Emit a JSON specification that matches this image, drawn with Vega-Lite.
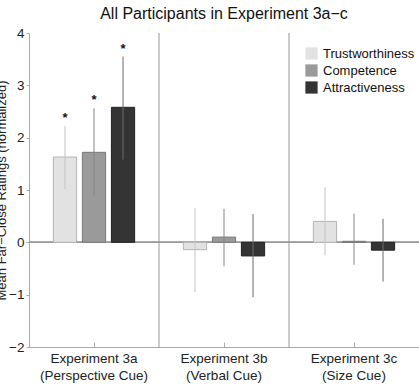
{
  "$schema": "https://vega.github.io/schema/vega-lite/v6.json",
  "width": 390,
  "height": 314,
  "autosize": "none",
  "padding": {"left": 29, "top": 33, "right": 0, "bottom": 39},
  "background": "white",
  "config": {
    "font": "Liberation Sans",
    "view": {"stroke": null},
    "axis": {"grid": false, "domainColor": "#aaaaaa", "tickColor": "#aaaaaa", "labelColor": "#222222", "titleColor": "#222222", "labelFont": "Liberation Sans", "titleFont": "Liberation Sans"}
  },
  "title": {"text": "All Participants in Experiment 3a\u2212c", "fontSize": 16, "fontWeight": "normal", "font": "Liberation Sans", "color": "#111111", "offset": 4, "anchor": "middle"},
  "datasets": {
    "bars": [
      {"group": "Experiment 3a|(Perspective Cue)", "series": "Trustworthiness", "mean": 1.63, "lo": 1.02, "hi": 2.23, "sig": "*"},
      {"group": "Experiment 3a|(Perspective Cue)", "series": "Competence", "mean": 1.72, "lo": 0.88, "hi": 2.56, "sig": "*"},
      {"group": "Experiment 3a|(Perspective Cue)", "series": "Attractiveness", "mean": 2.58, "lo": 1.58, "hi": 3.55, "sig": "*"},
      {"group": "Experiment 3b|(Verbal Cue)", "series": "Trustworthiness", "mean": -0.14, "lo": -0.95, "hi": 0.66, "sig": ""},
      {"group": "Experiment 3b|(Verbal Cue)", "series": "Competence", "mean": 0.1, "lo": -0.46, "hi": 0.64, "sig": ""},
      {"group": "Experiment 3b|(Verbal Cue)", "series": "Attractiveness", "mean": -0.26, "lo": -1.05, "hi": 0.54, "sig": ""},
      {"group": "Experiment 3c|(Size Cue)", "series": "Trustworthiness", "mean": 0.4, "lo": -0.25, "hi": 1.05, "sig": ""},
      {"group": "Experiment 3c|(Size Cue)", "series": "Competence", "mean": 0.02, "lo": -0.43, "hi": 0.55, "sig": ""},
      {"group": "Experiment 3c|(Size Cue)", "series": "Attractiveness", "mean": -0.15, "lo": -0.75, "hi": 0.45, "sig": ""}
    ],
    "seps": [
      {"group": "Experiment 3b|(Verbal Cue)"},
      {"group": "Experiment 3c|(Size Cue)"}
    ]
  },
  "layer": [
    {
      "data": {"name": "seps"},
      "mark": {"type": "rule", "color": "#999999", "strokeWidth": 1},
      "encoding": {
        "x": {"field": "group", "type": "nominal", "bandPosition": 0}
      }
    },
    {
      "data": {"name": "bars"},
      "mark": {"type": "rule", "color": "#999999", "strokeWidth": 1},
      "encoding": {"y": {"datum": 0}}
    },
    {
      "data": {"name": "bars"},
      "mark": {"type": "bar", "strokeWidth": 1},
      "encoding": {
        "x": {
          "field": "group", "type": "nominal", "sort": null,
          "scale": {"paddingInner": 0, "paddingOuter": 0},
          "axis": {"title": null, "labelAngle": 0, "labelAlign": "center", "labelBaseline": "top", "labelExpr": "split(datum.label, '|')", "labelFontSize": 13.5, "labelLineHeight": 17, "tickSize": -5, "labelPadding": 9, "domainColor": "#aaaaaa"}
        },
        "xOffset": {
          "field": "series", "type": "nominal",
          "sort": ["Trustworthiness", "Competence", "Attractiveness"],
          "scale": {"paddingInner": 0.2, "paddingOuter": 0.84}
        },
        "y": {
          "field": "mean", "type": "quantitative",
          "scale": {"domain": [-2, 4], "nice": false, "zero": false},
          "axis": {"title": "Mean Far\u2212Close Ratings (normalized)", "titleFontSize": 13, "titleFontWeight": "normal", "titleX": -24, "titleBaseline": "alphabetic", "values": [-2, -1, 0, 1, 2, 3, 4], "labelFontSize": 13.5, "tickSize": 3, "labelPadding": 2, "labelExpr": "replace(datum.label, '-', '\u2212')"}
        },
        "y2": {"datum": 0},
        "color": {
          "field": "series", "type": "nominal",
          "sort": ["Trustworthiness", "Competence", "Attractiveness"],
          "scale": {"domain": ["Trustworthiness", "Competence", "Attractiveness"], "range": ["#e2e2e2", "#9a9a9a", "#343434"]},
          "legend": {
            "title": null, "orient": "none", "legendX": 276, "legendY": 14,
            "symbolType": "square", "symbolSize": 150, "symbolStrokeWidth": 0,
            "labelFontSize": 13, "labelColor": "#111111", "rowPadding": 3, "labelOffset": 5
          }
        },
        "stroke": {
          "field": "series", "type": "nominal",
          "scale": {"domain": ["Trustworthiness", "Competence", "Attractiveness"], "range": ["#b5b5b5", "#777777", "#222222"]},
          "legend": null
        }
      }
    },
    {
      "data": {"name": "bars"},
      "mark": {"type": "rule", "strokeWidth": 1},
      "encoding": {
        "x": {"field": "group", "type": "nominal", "sort": null},
        "xOffset": {"field": "series", "type": "nominal", "sort": ["Trustworthiness", "Competence", "Attractiveness"]},
        "y": {"field": "lo", "type": "quantitative"},
        "y2": {"field": "hi"},
        "color": {
          "field": "series", "type": "nominal",
          "scale": {"domain": ["Trustworthiness", "Competence", "Attractiveness"], "range": ["#c4c4c4", "#858585", "#6a6a6a"]},
          "legend": null
        }
      }
    },
    {
      "data": {"name": "bars"},
      "mark": {"type": "text", "dy": -8, "baseline": "middle", "fontSize": 13, "fontWeight": "bold", "color": "#111111"},
      "encoding": {
        "x": {"field": "group", "type": "nominal", "sort": null},
        "xOffset": {"field": "series", "type": "nominal", "sort": ["Trustworthiness", "Competence", "Attractiveness"]},
        "y": {"field": "hi", "type": "quantitative"},
        "text": {"field": "sig"}
      }
    }
  ],
  "resolve": {"scale": {"color": "independent"}}
}
